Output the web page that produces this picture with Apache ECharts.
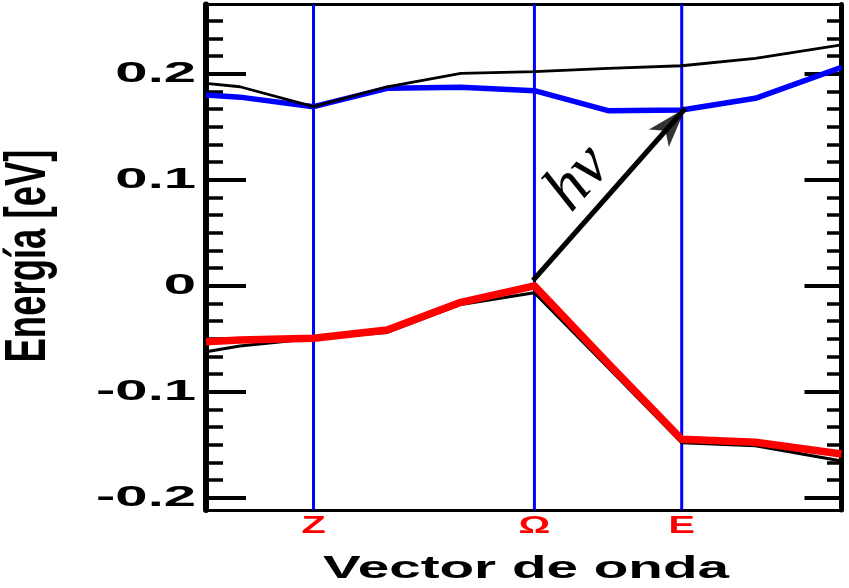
<!DOCTYPE html>
<html><head><meta charset="utf-8">
<script src="https://cdn.jsdelivr.net/npm/echarts@6/dist/echarts.min.js"></script>
<style>html,body{margin:0;padding:0;background:#fff}#c{width:849px;height:588px}</style>
</head><body><div id="c"></div>
<script>
// ---- data ----
const kPos = [-0.46, 0, 1, 2, 3, 4, 5, 6, 7, 8.17];
const conductionBlue  = [0.180, 0.178, 0.169, 0.1863, 0.1873, 0.1841, 0.1652, 0.1658, 0.1769, 0.2061];
const conductionBlack = [0.1910, 0.1878, 0.1690, 0.1878, 0.2005, 0.2020, 0.2052, 0.2076, 0.2146, 0.2272];
const valenceRed      = [-0.0527, -0.0511, -0.0495, -0.0417, -0.0156, 0.0000, -0.0731, -0.1448, -0.1476, -0.1587];
const valenceBlack    = [-0.0622, -0.0568, -0.0495, -0.0439, -0.0175, -0.0065, -0.0769, -0.1480, -0.1508, -0.1653];
const symPoints = [1, 4, 6];
const symLabels = ['Z', 'Ω', 'E'];
const yTickValues = [-0.2, -0.1, 0, 0.1, 0.2];
const yTickLabels = ['-0.2', '-0.1', '0', '0.1', '0.2'];
const minorPerMajor = 6;
const xMin = -0.46, xMax = 8.17, yMin = -0.2115, yMax = 0.2654;
const arrowFrom = [3.98, 0.005], arrowTo = [6.05, 0.1675];
const photonLabel = 'hν', photonPos = [4.6, 0.101];
const xName = 'Vector de onda', yName = 'Energía [eV]';

// minor tick positions (between major ticks)
const minorTicks = [];
const step = 0.1 / minorPerMajor;
for (let i = -20; i <= 20; i++) {
  const v = +(i * step).toFixed(6);
  if (v > yMin && v < yMax) minorTicks.push(v);
}
const pair = (xs, ys) => xs.map((x, i) => [x, ys[i]]);

function yAx(pos, major, len, w, lineW) {
  return {
    type: 'value', min: yMin, max: yMax, position: pos,
    axisLine: { show: lineW > 0, onZero: false, lineStyle: { color: '#000', width: lineW } },
    axisTick: { show: true, inside: true, length: len, customValues: major ? yTickValues : minorTicks,
      lineStyle: { color: '#000', width: w } },
    axisLabel: { show: false }, splitLine: { show: false }
  };
}

const chart = echarts.init(document.getElementById('c'));
const gridOpt = { left: 206, right: 7.5, top: 4.5, bottom: 78 };
// first pass to get pixel geometry for arrow direction
chart.setOption({ grid: gridOpt,
  xAxis: { type: 'value', min: xMin, max: xMax, show: false },
  yAxis: { type: 'value', min: yMin, max: yMax, show: false }, series: [] });
const px0 = p => chart.convertToPixel({ xAxisIndex: 0, yAxisIndex: 0 }, p);
const a0 = px0(arrowFrom), a1 = px0(arrowTo);
const ang = Math.atan2(a0[1] - a1[1], a1[0] - a0[0]);
const angDeg = ang * 180 / Math.PI;

const series = [];
symPoints.forEach(k => series.push({
  type: 'line', data: [[k, yMin], [k, yMax]], showSymbol: false, z: 1, silent: true,
  lineStyle: { color: '#0000ff', width: 3 } }));
series.push(
  { type: 'line', data: pair(kPos, conductionBlue), showSymbol: false, z: 2, clip: true,
    lineStyle: { color: '#0000ff', width: 5.5, join: 'round' } },
  { type: 'line', data: pair(kPos, conductionBlack), showSymbol: false, z: 3, clip: true,
    lineStyle: { color: '#000', width: 2.8 } },
  { type: 'line', data: pair(kPos, valenceBlack), showSymbol: false, z: 3, clip: true,
    lineStyle: { color: '#000', width: 3.2 } },
  { type: 'line', data: pair(kPos, valenceRed), showSymbol: false, z: 4, clip: true,
    lineStyle: { color: '#ff0000', width: 7.5, join: 'round' } },
  { type: 'line', data: [arrowFrom, arrowTo], showSymbol: false, z: 6, silent: true,
    lineStyle: { color: '#000', width: 5 } },
  { type: 'scatter', data: [arrowTo], symbol: 'arrow', symbolSize: [20, 40],
    symbolRotate: angDeg - 90, z: 7, silent: true, itemStyle: { color: '#000' } }
);

const option = {
  animation: false,
  grid: gridOpt,
  xAxis: [
    { type: 'value', min: xMin, max: xMax, position: 'bottom', show: true,
      axisLine: { show: true, onZero: false, lineStyle: { color: '#000', width: 3 } },
      axisTick: { show: false }, axisLabel: { show: false }, splitLine: { show: false } },
    { type: 'value', min: xMin, max: xMax, position: 'top',
      axisLine: { show: true, onZero: false, lineStyle: { color: '#000', width: 3 } },
      axisTick: { show: false }, axisLabel: { show: false }, splitLine: { show: false } }
  ],
  yAxis: [
    Object.assign(yAx('left', true, 40, 4, 6), { show: true }),
    yAx('left', false, 17, 3.5, 0),
    yAx('right', true, 37, 4, 5),
    yAx('right', false, 14.5, 3.5, 0)
  ],
  series: series
};
chart.setOption(option, true);

const px = p => chart.convertToPixel({ xAxisIndex: 0, yAxisIndex: 0 }, p);
const g = [];
const leftPx = px([xMin, 0])[0];
const bottomPx = px([xMin, yMin])[1];
yTickValues.forEach((v, i) => {
  const p = px([xMin, v]);
  g.push({ type: 'text', x: leftPx - 10, y: p[1], scaleX: 2.0, silent: true,
    style: { text: yTickLabels[i], fill: '#000', fontSize: 29, fontWeight: 'bold',
      fontFamily: 'Liberation Sans', align: 'right', verticalAlign: 'middle',
      textAlign: 'right', textVerticalAlign: 'middle' } });
});
symPoints.forEach((k, i) => {
  const p = px([k, yMin]);
  g.push({ type: 'text', x: p[0], y: bottomPx + 16.5, scaleX: 1.65, silent: true,
    style: { text: symLabels[i], fill: '#ff0000', fontSize: 24, fontWeight: 'bold',
      fontFamily: 'Liberation Sans', align: 'center', verticalAlign: 'middle',
      textAlign: 'center', textVerticalAlign: 'middle' } });
});
g.push({ type: 'text', x: 526, y: 569, scaleX: 1.77, silent: true,
  style: { text: xName, fill: '#000', fontSize: 32, fontWeight: 'bold',
    fontFamily: 'Liberation Sans', align: 'center', verticalAlign: 'middle',
    textAlign: 'center', textVerticalAlign: 'middle' } });
g.push({ type: 'text', x: 29, y: 256, rotation: Math.PI / 2, scaleY: 1.55, silent: true,
  style: { text: yName, fill: '#000', fontSize: 36.5, fontWeight: 'bold',
    fontFamily: 'Liberation Sans', align: 'center', verticalAlign: 'middle',
    textAlign: 'center', textVerticalAlign: 'middle' } });
const hp = px(photonPos);
g.push({ type: 'text', x: hp[0], y: hp[1], rotation: ang, silent: true,
  style: { text: photonLabel, fill: '#000', fontSize: 66, fontStyle: 'italic',
    fontFamily: 'Liberation Serif', align: 'center', verticalAlign: 'middle',
    textAlign: 'center', textVerticalAlign: 'middle' } });
chart.setOption({ graphic: { elements: g } });
</script>
</body></html>
